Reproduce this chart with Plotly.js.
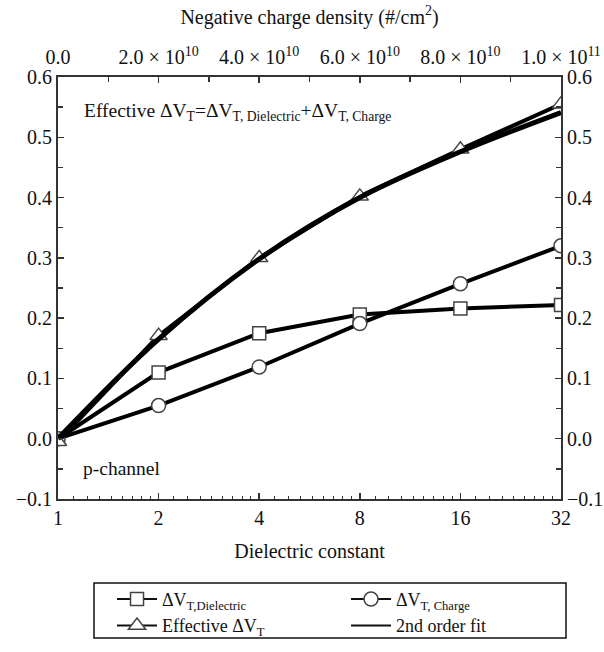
<!DOCTYPE html>
<html>
<head>
<meta charset="utf-8">
<script src="https://cdn.plot.ly/plotly-3.0.1.min.js"></script>
<style>html,body{margin:0;padding:0;background:#fff;}#chart{width:604px;height:652px;}</style>
</head>
<body>
<div id="chart"></div>
<script>
// ---- data ----
const dielectricK = [1, 2, 4, 8, 16, 32];
const dvtDielectric = [0.0, 0.110, 0.175, 0.206, 0.216, 0.222];
const dvtCharge = [0.0, 0.055, 0.119, 0.191, 0.257, 0.320];
const dvtEffective = [-0.005, 0.171, 0.300, 0.402, 0.480, 0.555];
const fitK = [1, 2, 4, 8, 16, 32];
const fitValues = [0.0, 0.165, 0.298, 0.400, 0.476, 0.541];
const xTickVals = [1, 2, 4, 8, 16, 32];
const topTickVals = [0, 2e10, 4e10, 6e10, 8e10, 1e11];
const topTickText = ['0.0', '2.0 × 10<sup>10</sup>', '4.0 × 10<sup>10</sup>', '6.0 × 10<sup>10</sup>', '8.0 × 10<sup>10</sup>', '1.0 × 10<sup>11</sup>'];
const seriesNames = ['ΔV<sub>T,Dielectric</sub>', 'ΔV<sub>T, Charge</sub>', 'Effective ΔV<sub>T</sub>', '2nd order fit'];

// minor ticks on the log axis (9 linear subdivisions per octave)
const minorX = [];
for (let k = 0; k < 5; k++) {
  const base = Math.pow(2, k);
  for (let j = 1; j <= 8; j++) minorX.push(base * (1 + j / 9));
}

const FONT = 'Liberation Serif, Times New Roman, serif';
const markerLine = {color: '#444', width: 1.5};
const sqMarker = {symbol: 'square', size: 13, color: '#fff', line: markerLine};
const ciMarker = {symbol: 'circle', size: 14, color: '#fff', line: markerLine};
const trMarker = {symbol: 'triangle-up', size: 15, color: '#fff', line: markerLine};

// legend key entries: same series on a hidden axis pair (out of view), thin key lines
const keyAxes = {xaxis: 'x3', yaxis: 'y3', hoverinfo: 'skip', type: 'scatter'};

const traces = [
  {x: dielectricK, y: dvtDielectric, name: seriesNames[0], type: 'scatter', mode: 'lines+markers',
   line: {color: '#000', width: 4}, marker: sqMarker, showlegend: false},
  {x: dielectricK, y: dvtCharge, name: seriesNames[1], type: 'scatter', mode: 'lines+markers',
   line: {color: '#000', width: 4}, marker: ciMarker, showlegend: false},
  {x: dielectricK, y: dvtEffective, name: seriesNames[2], type: 'scatter', mode: 'lines+markers',
   line: {color: '#000', width: 4}, marker: trMarker, showlegend: false},
  {x: fitK, y: fitValues, name: seriesNames[3], type: 'scatter', mode: 'lines',
   line: {color: '#000', width: 5, shape: 'spline'}, showlegend: false},
  Object.assign({x: dielectricK, y: dvtDielectric, name: seriesNames[0], mode: 'lines+markers', line: {color: '#111', width: 2}, marker: sqMarker}, keyAxes),
  Object.assign({x: dielectricK, y: dvtCharge, name: seriesNames[1], mode: 'lines+markers', line: {color: '#111', width: 2}, marker: ciMarker}, keyAxes),
  Object.assign({x: dielectricK, y: dvtEffective, name: seriesNames[2], mode: 'lines+markers', line: {color: '#111', width: 2}, marker: trMarker}, keyAxes),
  Object.assign({x: fitK, y: fitValues, name: seriesNames[3], mode: 'lines', line: {color: '#111', width: 2}}, keyAxes),
  {x: [], y: [], xaxis: 'x2', yaxis: 'y2', type: 'scatter', showlegend: false, hoverinfo: 'skip'}
];

const axisCommon = {
  showline: true, linecolor: '#333', linewidth: 2, ticks: 'inside', ticklen: 6, tickwidth: 1.5,
  tickcolor: '#333', showgrid: false, zeroline: false, automargin: false,
  tickfont: {family: FONT, size: 20, color: '#111'}
};

const layout = {
  width: 604, height: 652,
  margin: {l: 58, r: 43, t: 77, b: 153, autoexpand: false},
  paper_bgcolor: '#fff', plot_bgcolor: '#fff',
  font: {family: FONT, color: '#111'},
  showlegend: true,
  xaxis: Object.assign({}, axisCommon, {
    type: 'log', range: [0, Math.log10(32)], tickvals: xTickVals, ticktext: xTickVals.map(String),
    minor: {tickmode: 'array', tickvals: minorX, ticks: 'inside', ticklen: 3, tickcolor: '#333', tickwidth: 1},
    title: {text: 'Dielectric constant', font: {family: FONT, size: 20, color: '#111'}, standoff: 16}
  }),
  xaxis2: Object.assign({}, axisCommon, {
    overlaying: 'x', side: 'top', range: [0, 1e11], tickvals: topTickVals, ticktext: topTickText,
    ticklabelstandoff: 3,
    minor: {dtick: 1e10, ticks: 'inside', ticklen: 5, tickcolor: '#333', tickwidth: 1.5},
    title: {text: 'Negative charge density (#/cm<sup>2</sup>)', font: {family: FONT, size: 20, color: '#111'}, standoff: 14}
  }),
  xaxis3: {overlaying: 'x', visible: false, range: [1000, 1001], fixedrange: true},
  yaxis: Object.assign({}, axisCommon, {
    range: [-0.1, 0.6], dtick: 0.1, tick0: 0, tickformat: '.1f',
    minor: {dtick: 0.05, ticks: 'inside', ticklen: 5, tickcolor: '#333', tickwidth: 1.5}
  }),
  yaxis2: Object.assign({}, axisCommon, {
    overlaying: 'y', side: 'right', range: [-0.1, 0.6], dtick: 0.1, tick0: 0, tickformat: '.1f',
    minor: {dtick: 0.05, ticks: 'inside', ticklen: 5, tickcolor: '#333', tickwidth: 1.5}
  }),
  yaxis3: {overlaying: 'y', visible: false, range: [1000, 1001], fixedrange: true},
  legend: {
    orientation: 'h', x: 0.1074, y: -0.194, xanchor: 'left', yanchor: 'top',
    entrywidth: 179, entrywidthmode: 'pixels',
    borderwidth: 0, bgcolor: 'rgba(0,0,0,0)',
    font: {family: FONT, size: 18, color: '#111'}, itemwidth: 40, tracegroupgap: 0
  },
  shapes: [
    {type: 'rect', xref: 'paper', yref: 'paper', x0: (94 - 58) / 503, x1: (566 - 58) / 503,
     y0: (499 - 583) / 422, y1: (499 - 638) / 422, line: {color: '#111', width: 1.5}, fillcolor: 'rgba(0,0,0,0)', layer: 'below'}
  ],
  annotations: [
    {xref: 'paper', yref: 'paper', x: 0.048, y: 0.917, xanchor: 'left', yanchor: 'middle', showarrow: false,
     text: 'Effective ΔV<sub>T</sub>=ΔV<sub>T, Dielectric</sub>+ΔV<sub>T, Charge</sub>',
     font: {family: FONT, size: 19.5, color: '#111'}},
    {xref: 'paper', yref: 'paper', x: 0.046, y: 0.073, xanchor: 'left', yanchor: 'middle', showarrow: false,
     text: 'p-channel', font: {family: FONT, size: 19.5, color: '#111'}}
  ]
};

Plotly.newPlot('chart', traces, layout, {displayModeBar: false, staticPlot: true});
</script>
</body>
</html>
